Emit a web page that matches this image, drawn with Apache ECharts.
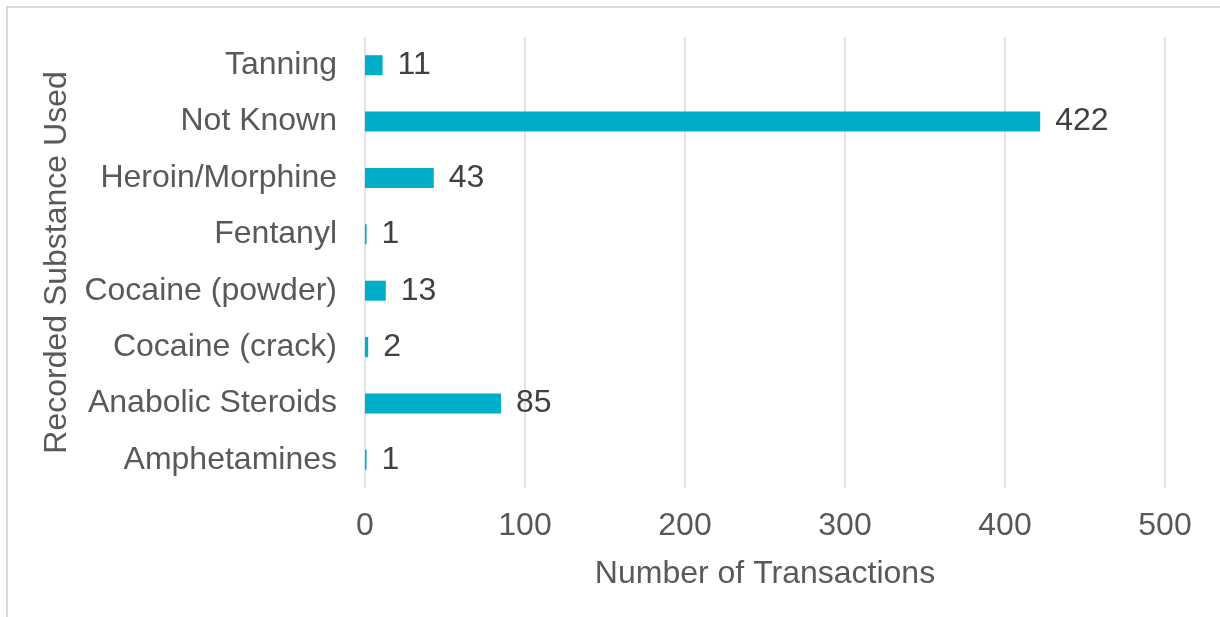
<!DOCTYPE html>
<html>
<head>
<meta charset="utf-8">
<script src="https://cdn.jsdelivr.net/npm/echarts@6/dist/echarts.min.js"></script>
<style>
  html, body { margin: 0; padding: 0; background: #fff; }
  #frame { position: absolute; left: 6px; top: 6px; width: 1300px; height: 700px; border: 2px solid #d9d9d9; }
  #main { position: absolute; left: 0; top: 0; width: 1220px; height: 617px; }
</style>
</head>
<body>
<div id="frame"></div>
<div id="main"></div>
<script>
// substances, top to bottom as shown
var substances = ['Tanning', 'Not Known', 'Heroin/Morphine', 'Fentanyl',
    'Cocaine (powder)', 'Cocaine (crack)', 'Anabolic Steroids', 'Amphetamines'];
var transactions = [11, 422, 43, 1, 13, 2, 85, 1];

var font = 'Liberation Sans, Arial, sans-serif';
var chart = echarts.init(document.getElementById('main'));

chart.setOption({
    backgroundColor: 'transparent',
    animation: false,
    grid: { left: 365, right: 55, top: 37, bottom: 129 },
    xAxis: {
        type: 'value',
        min: 0,
        max: 500,
        interval: 100,
        name: 'Number of Transactions',
        nameLocation: 'middle',
        nameGap: 70,
        nameTextStyle: { color: '#595959', fontSize: 32, fontFamily: font },
        axisLine: { show: false },
        axisTick: { show: false },
        axisLabel: { color: '#595959', fontSize: 32, fontFamily: font, margin: 22 },
        splitLine: { lineStyle: { color: '#d9d9d9', width: 1.5 } }
    },
    yAxis: {
        type: 'category',
        data: substances,
        inverse: true,
        name: 'Recorded Substance Used',
        nameLocation: 'middle',
        nameGap: 282,
        nameTextStyle: { color: '#595959', fontSize: 32, fontFamily: font },
        axisLine: { show: false },
        axisTick: { show: false },
        axisLabel: { color: '#595959', fontSize: 32, fontFamily: font, margin: 28, padding: [4, 0, 0, 0] }
    },
    series: [{
        type: 'bar',
        data: transactions,
        barWidth: 20,
        itemStyle: { color: '#00aec9' },
        label: {
            show: true,
            position: 'right',
            distance: 15,
            padding: [4, 0, 0, 0],
            color: '#404040',
            fontSize: 32,
            fontFamily: font
        }
    }]
});
</script>
</body>
</html>
